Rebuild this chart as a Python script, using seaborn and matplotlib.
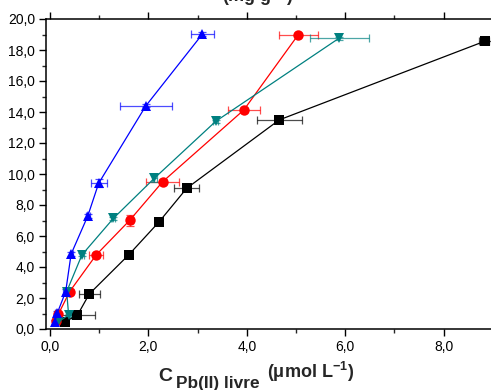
import matplotlib
matplotlib.use("Agg")
import matplotlib.pyplot as plt
import matplotlib.ticker as mticker
import seaborn as sns
import pandas as pd
import numpy as np

# ---- data ----
black_x = [0.31, 0.56, 0.80, 1.60, 2.22, 2.78, 4.66, 8.84]
black_y = [0.47, 0.90, 2.26, 4.78, 6.92, 9.08, 13.49, 18.57]
black_xerr = [0.05, 0.35, 0.21, 0.03, 0.06, 0.25, 0.46, 0.12]
black_yerr = [0.10, 0.10, 0.10, 0.10, 0.20, 0.10, 0.10, 0.10]

red_x = [0.12, 0.17, 0.40, 0.94, 1.62, 2.29, 3.94, 5.05]
red_y = [0.50, 0.95, 2.41, 4.78, 7.01, 9.50, 14.13, 19.00]
red_xerr = [0.03, 0.04, 0.05, 0.14, 0.06, 0.33, 0.33, 0.40]
red_yerr = [0.10, 0.10, 0.15, 0.15, 0.35, 0.15, 0.15, 0.10]

teal_x = [0.17, 0.38, 0.34, 0.65, 1.29, 2.12, 3.37, 5.88]
teal_y = [0.47, 0.90, 2.41, 4.78, 7.14, 9.72, 13.40, 18.77]
teal_xerr = [0.05, 0.04, 0.05, 0.04, 0.04, 0.05, 0.05, 0.60]
teal_yerr = [0.10, 0.10, 0.15, 0.10, 0.10, 0.25, 0.10, 0.10]

blue_x = [0.10, 0.15, 0.32, 0.43, 0.77, 0.99, 1.95, 3.10]
blue_y = [0.45, 1.03, 2.41, 4.83, 7.30, 9.40, 14.40, 19.03]
blue_xerr = [0.05, 0.05, 0.05, 0.03, 0.04, 0.16, 0.53, 0.24]
blue_yerr = [0.15, 0.15, 0.15, 0.15, 0.15, 0.25, 0.10, 0.15]

series_names = ["A", "B", "C", "D"]
colors = {"A": "#000000", "B": "#FF0000", "C": "#008080", "D": "#0000FF"}
markers = {"A": "s", "B": "o", "C": "v", "D": "^"}

xs = [black_x, red_x, teal_x, blue_x]
ys = [black_y, red_y, teal_y, blue_y]
xerrs = [black_xerr, red_xerr, teal_xerr, blue_xerr]
yerrs = [black_yerr, red_yerr, teal_yerr, blue_yerr]

rows = []
for name, xv, yv in zip(series_names, xs, ys):
    for i, (a, b) in enumerate(zip(xv, yv)):
        rows.append({"series": name, "x": a, "y": b, "order": i})
df = pd.DataFrame(rows)

sns.set_style("ticks")
plt.rcParams["font.family"] = ["Liberation Sans", "DejaVu Sans"]
plt.rcParams["mathtext.fontset"] = "custom"
plt.rcParams["mathtext.rm"] = "Liberation Sans"
plt.rcParams["mathtext.bf"] = "Liberation Sans:bold"
plt.rcParams["mathtext.it"] = "Liberation Sans:italic"

W, H = 491, 390
fig = plt.figure(figsize=(W / 100, H / 100), dpi=100)
ax = fig.add_axes([46 / W, 61 / H, 0.93, 310 / H])

# error bars first
for name, xv, yv, xe, ye in zip(series_names, xs, ys, xerrs, yerrs):
    ax.errorbar(xv, yv, xerr=xe, yerr=ye, fmt="none", ecolor=colors[name],
                elinewidth=0.9, capsize=3, capthick=0.9, alpha=0.7, zorder=2)

sns.lineplot(data=df, x="x", y="y", hue="series", style="series",
             palette=colors, markers=markers, dashes=False, sort=False,
             estimator=None, units="series", ax=ax, linewidth=0.9,
             markersize=7.5, markeredgewidth=0, legend=False, zorder=3)

ax.set_xlim(-0.08, 9.2)
ax.set_ylim(0, 20)
ax.xaxis.set_major_locator(mticker.MultipleLocator(2))
ax.xaxis.set_minor_locator(mticker.MultipleLocator(1))
ax.yaxis.set_major_locator(mticker.MultipleLocator(2))
ax.yaxis.set_minor_locator(mticker.MultipleLocator(1))
fmt = mticker.FuncFormatter(lambda v, p: f"{v:.1f}".replace(".", ","))
ax.xaxis.set_major_formatter(fmt)
ax.yaxis.set_major_formatter(fmt)

for s in ["left", "bottom", "top"]:
    ax.spines[s].set_linewidth(1.1)
    ax.spines[s].set_color("black")
ax.spines["right"].set_visible(False)
ax.tick_params(axis="both", which="major", direction="out", length=5,
               width=1, labelsize=10, colors="black", pad=3)
ax.tick_params(axis="both", which="minor", direction="out", length=3, width=1)
ax.tick_params(axis="x", which="both", top=True)
ax.tick_params(axis="y", which="both", right=False)
ax.set_xlabel("")
ax.set_ylabel("")

fig.text(158 / W, 1 - 381 / H, "C", ha="left", va="baseline",
         fontsize=14, fontweight="bold")
fig.text(176 / W, 1 - 388 / H, "Pb(II) livre", ha="left", va="baseline",
         fontsize=12.4, fontweight="bold")
fig.text(267 / W, 1 - 378 / H, r"$\mathbf{(\mu mol\ L^{-1})}$",
         ha="left", va="baseline", fontsize=13)
# top label, cut by the figure edge as in the reference
fig.text(258 / W, 1 - 1.5 / H, r"$\mathbf{(mg\ g^{-1})}$",
         ha="center", va="baseline", fontsize=13)

fig.savefig("out.png", dpi=100)
